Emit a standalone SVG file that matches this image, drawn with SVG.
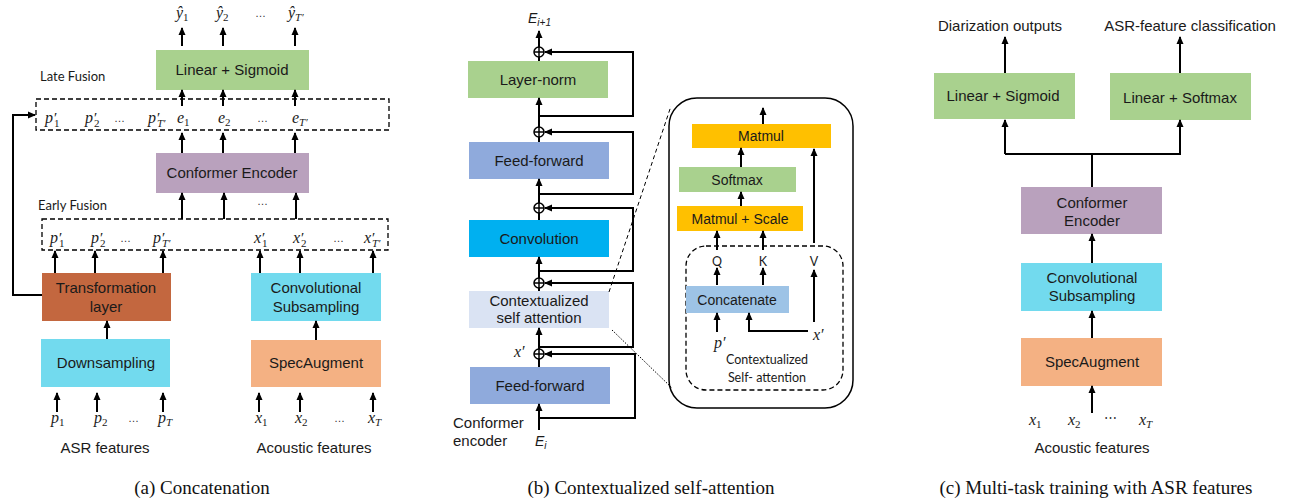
<svg xmlns="http://www.w3.org/2000/svg" width="1291" height="501" viewBox="0 0 1291 501">
<style>
.bx{font-family:"Liberation Sans",Arial,sans-serif;font-size:15px;fill:#1a1a1a;text-anchor:middle}
.cal{font-family:Lato,"Open Sans",sans-serif;font-size:13px;fill:#1a1a1a}
.m{font-family:"Liberation Serif","Times New Roman",serif;font-style:italic;font-size:16px;fill:#1a1a1a}
.s{font-size:11px;font-style:normal}
.si{font-size:11px}
.pr{font-size:15px;font-style:normal}
.cap{font-family:"Liberation Serif","Times New Roman",serif;font-size:19px;fill:#111;text-anchor:middle}
.ln{stroke:#000;stroke-width:2;fill:none}
.ar{stroke:#000;stroke-width:2;fill:none;marker-end:url(#ah)}
.dash{stroke:#000;stroke-width:1.3;fill:none;stroke-dasharray:5,3}
.dots{font-family:"Liberation Sans",sans-serif;font-size:11px;fill:#333}
</style>
<defs>
<marker id="ah" markerWidth="8" markerHeight="8" refX="7" refY="4" orient="auto" markerUnits="userSpaceOnUse"><path d="M0,0.5 L8,4 L0,7.5 z" fill="#000"/></marker>
</defs>
<rect width="1291" height="501" fill="#fff"/>

<!-- ================= Panel (a) ================= -->
<g id="a-lin-sig"><rect x="156" y="50" width="153" height="40" fill="#A9D18E"/><text class="bx" x="232" y="75">Linear + Sigmoid</text></g>
<g id="a-conformer"><rect x="156" y="153" width="153" height="40" fill="#B9A1BD"/><text class="bx" x="232" y="178">Conformer Encoder</text></g>
<g id="a-transform"><rect x="42" y="273" width="129" height="48" fill="#C3673F"/><text class="bx" x="106" y="293">Transformation</text><text class="bx" x="106" y="312">layer</text></g>
<g id="a-convsub"><rect x="251" y="273" width="130" height="48" fill="#72DAEE"/><text class="bx" x="316" y="293">Convolutional</text><text class="bx" x="316" y="312">Subsampling</text></g>
<g id="a-down"><rect x="41" y="339" width="129" height="48" fill="#72DAEE"/><text class="bx" x="106" y="368">Downsampling</text></g>
<g id="a-spec"><rect x="251" y="340" width="130" height="47" fill="#F4B183"/><text class="bx" x="316" y="368">SpecAugment</text></g>

<g id="a-late"><rect class="dash" x="36" y="99" width="353" height="31"/>
<text class="cal" x="40" y="81">Late Fusion</text>
<text class="m" x="45" y="123">p<tspan class="pr" x="54" y="123">′</tspan><tspan class="s" x="54" y="127">1</tspan></text>
<text class="m" x="85" y="123">p<tspan class="pr" x="94" y="123">′</tspan><tspan class="s" x="94" y="127">2</tspan></text>
<text class="dots" x="114" y="122">…</text>
<text class="m" x="148" y="123">p<tspan class="pr" x="157" y="123">′</tspan><tspan class="si" x="157" y="127">T′</tspan></text>
<text class="m" x="177" y="123">e<tspan class="s" dy="3">1</tspan></text>
<text class="m" x="218" y="123">e<tspan class="s" dy="3">2</tspan></text>
<text class="dots" x="257" y="122">…</text>
<text class="m" x="292" y="123">e<tspan class="si" dy="3">T′</tspan></text>
</g>

<g id="a-early"><rect class="dash" x="42" y="219" width="346" height="31"/>
<text class="cal" x="38" y="210">Early Fusion</text>
<text class="m" x="50" y="243">p<tspan class="pr" x="59" y="243">′</tspan><tspan class="s" x="59" y="247">1</tspan></text>
<text class="m" x="91" y="243">p<tspan class="pr" x="100" y="243">′</tspan><tspan class="s" x="100" y="247">2</tspan></text>
<text class="dots" x="120" y="242">…</text>
<text class="m" x="153" y="243">p<tspan class="pr" x="162" y="243">′</tspan><tspan class="si" x="162" y="247">T′</tspan></text>
<text class="m" x="254" y="243">x<tspan class="pr" x="262" y="243">′</tspan><tspan class="s" x="262" y="247">1</tspan></text>
<text class="m" x="293" y="243">x<tspan class="pr" x="301" y="243">′</tspan><tspan class="s" x="301" y="247">2</tspan></text>
<text class="dots" x="333" y="242">…</text>
<text class="m" x="364" y="243">x<tspan class="pr" x="372" y="243">′</tspan><tspan class="si" x="372" y="247">T′</tspan></text>
</g>

<g id="a-outputs">
<text class="m" x="176" y="18">ŷ<tspan class="s" dy="3">1</tspan></text>
<text class="m" x="216" y="18">ŷ<tspan class="s" dy="3">2</tspan></text>
<text class="dots" x="255" y="17">…</text>
<text class="m" x="288" y="18">ŷ<tspan class="si" dy="3">T′</tspan></text>
</g>

<g id="a-inputs">
<text class="m" x="51" y="423">p<tspan class="s" dy="3">1</tspan></text>
<text class="m" x="94" y="423">p<tspan class="s" dy="3">2</tspan></text>
<text class="dots" x="128" y="422">…</text>
<text class="m" x="158" y="423">p<tspan class="si" dy="3">T</tspan></text>
<text class="m" x="255" y="423">x<tspan class="s" dy="3">1</tspan></text>
<text class="m" x="295" y="423">x<tspan class="s" dy="3">2</tspan></text>
<text class="dots" x="334" y="422">…</text>
<text class="m" x="368" y="423">x<tspan class="si" dy="3">T</tspan></text>
<text class="bx" x="105" y="453">ASR features</text>
<text class="bx" x="314" y="453">Acoustic features</text>
</g>
<text class="cap" x="202" y="494">(a) Concatenation</text>

<g id="a-connectors">
<path class="ar" d="M182,46V28"/><path class="ar" d="M223,46V28"/><path class="ar" d="M295,46V28"/>
<path class="ar" d="M182,106V90"/><path class="ar" d="M223,106V90"/><path class="ar" d="M295,106V90"/>
<path class="ar" d="M182,153V133"/><path class="ar" d="M223,153V133"/><path class="ar" d="M295,153V133"/>
<text class="dots" x="257" y="205">…</text>
<path class="ar" d="M182,219V193"/><path class="ar" d="M224,219V193"/><path class="ar" d="M296,219V193"/>
<path class="ar" d="M55,273V251"/><path class="ar" d="M95,273V251"/><path class="ar" d="M163,273V251"/>
<path class="ar" d="M260,273V251"/><path class="ar" d="M300,273V251"/><path class="ar" d="M373,273V251"/>
<path class="ar" d="M107,339V321"/><path class="ar" d="M316,340V321"/>
<path class="ar" d="M57,412V393"/><path class="ar" d="M97,412V393"/><path class="ar" d="M163,412V393"/>
<path class="ar" d="M259,412V393"/><path class="ar" d="M300,412V393"/><path class="ar" d="M373,412V393"/>
<path class="ar" d="M42,295H13V115H35"/>
</g>

<!-- ================= Panel (b) ================= -->
<g id="b-ln"><rect x="468" y="61" width="140" height="37" fill="#A9D18E"/><text class="bx" x="538" y="85">Layer-norm</text></g>
<g id="b-ff1"><rect x="469" y="142" width="140" height="37" fill="#8FAADC"/><text class="bx" x="539" y="166">Feed-forward</text></g>
<g id="b-conv"><rect x="469" y="220" width="140" height="37" fill="#00B0F0"/><text class="bx" x="539" y="244">Convolution</text></g>
<g id="b-csa"><rect x="469" y="291" width="140" height="37" fill="#DAE3F3"/><text class="bx" x="539" y="306">Contextualized</text><text class="bx" x="539" y="323">self attention</text></g>
<g id="b-ff2"><rect x="470" y="367" width="140" height="37" fill="#8FAADC"/><text class="bx" x="540" y="391">Feed-forward</text></g>
<g id="b-labels">
<text x="528" y="23" style="font-family:'Liberation Sans',sans-serif;font-style:italic;font-size:14px;fill:#1a1a1a">E<tspan font-size="10" dy="3">i+1</tspan></text>
<text x="535" y="446" style="font-family:'Liberation Sans',sans-serif;font-style:italic;font-size:14px;fill:#1a1a1a">E<tspan font-size="10" dy="3">i</tspan></text>
<text class="m" x="514" y="357">x′</text>
<text class="bx" x="453" y="428" style="text-anchor:start">Conformer</text>
<text class="bx" x="453" y="446" style="text-anchor:start">encoder</text>
</g>
<g id="b-sums" fill="none" stroke="#000" stroke-width="1.5">
<circle cx="539" cy="52" r="5"/><path d="M534,52H544M539,47V57"/>
<circle cx="539" cy="132" r="5"/><path d="M534,132H544M539,127V137"/>
<circle cx="539" cy="208" r="5"/><path d="M534,208H544M539,203V213"/>
<circle cx="539" cy="283" r="5"/><path d="M534,283H544M539,278V288"/>
<circle cx="539" cy="354" r="5"/><path d="M534,354H544M539,349V359"/>
</g>
<g id="b-connectors">
<path class="ar" d="M539,430V404"/>
<path class="ln" d="M539,367V359"/>
<path class="ar" d="M539,349V328"/>
<path class="ln" d="M539,291V288"/>
<path class="ar" d="M539,278V257"/>
<path class="ln" d="M539,220V213"/>
<path class="ar" d="M539,203V179"/>
<path class="ln" d="M539,142V137"/>
<path class="ar" d="M539,127V98"/>
<path class="ln" d="M539,61V57"/>
<path class="ar" d="M539,47V31"/>
<path class="ar" d="M539,418H635V354H545"/>
<path class="ar" d="M539,347H633V283H545"/>
<path class="ar" d="M539,271H633V208H545"/>
<path class="ar" d="M539,194H633V132H545"/>
<path class="ar" d="M539,116H633V52H545"/>
<path d="M609,292L671,106" stroke="#000" stroke-width="1" stroke-dasharray="4,3" fill="none"/>
<path d="M612,330L672,388" stroke="#000" stroke-width="1" stroke-dasharray="1.5,1.5" fill="none"/>
</g>

<!-- attention detail -->
<g id="b-attn-frame"><rect x="669" y="98" width="184" height="310" rx="28" fill="none" stroke="#000" stroke-width="1.5"/></g>
<g id="b-matmul"><rect x="692" y="124" width="139" height="24" fill="#FFC000"/><text class="bx" x="761" y="141" style="font-size:14px">Matmul</text></g>
<g id="b-softmax"><rect x="679" y="167" width="117" height="25" fill="#A9D18E"/><text class="bx" x="737" y="185" style="font-size:14px">Softmax</text></g>
<g id="b-mmscale"><rect x="677" y="206" width="126" height="25" fill="#FFC000"/><text class="bx" x="740" y="224" style="font-size:14px">Matmul + Scale</text></g>
<g id="b-ctx"><rect x="686" y="246" width="157" height="144" rx="20" fill="none" stroke="#000" stroke-width="1.3" stroke-dasharray="5,3"/>
<text class="cal" x="767" y="364" text-anchor="middle" style="font-size:12.5px">Contextualized</text>
<text class="cal" x="767" y="382" text-anchor="middle" style="font-size:12.5px">Self- attention</text>
<text class="cal" x="717" y="266" text-anchor="middle" style="font-size:12.5px">Q</text>
<text class="cal" x="763" y="266" text-anchor="middle" style="font-size:12.5px">K</text>
<text class="cal" x="814" y="266" text-anchor="middle" style="font-size:12.5px">V</text>
<text class="m" x="714" y="348">p′</text>
<text class="m" x="813" y="340">x′</text>
</g>
<g id="b-concat"><rect x="686" y="286" width="103" height="27" fill="#9DC3E6"/><text class="bx" x="737" y="305" style="font-size:14px">Concatenate</text></g>
<g id="b-attn-connectors">
<path class="ar" d="M763,124V108"/>
<path class="ar" d="M741,167V148"/>
<path class="ar" d="M741,206V192"/>
<path class="ar" d="M814,243V149"/>
<path class="ar" d="M717,250V231"/><path class="ar" d="M763,250V231"/>
<path class="ar" d="M717,285V268"/><path class="ar" d="M763,285V268"/>
<path class="ar" d="M717,332V313"/>
<path class="ar" d="M808,331H749V313"/>
<path class="ar" d="M814,322V270"/>
</g>
<text class="cap" x="651" y="494">(b) Contextualized self-attention</text>

<!-- ================= Panel (c) ================= -->
<g id="c-linsig"><rect x="934" y="73" width="141" height="46" fill="#A9D18E"/><text class="bx" x="1003" y="101">Linear + Sigmoid</text></g>
<g id="c-linsoft"><rect x="1110" y="73" width="141" height="47" fill="#A9D18E"/><text class="bx" x="1180" y="103">Linear + Softmax</text></g>
<g id="c-conf"><rect x="1021" y="187" width="141" height="47" fill="#B9A1BD"/><text class="bx" x="1092" y="208">Conformer</text><text class="bx" x="1092" y="226">Encoder</text></g>
<g id="c-convsub"><rect x="1021" y="263" width="141" height="48" fill="#72DAEE"/><text class="bx" x="1092" y="283">Convolutional</text><text class="bx" x="1092" y="301">Subsampling</text></g>
<g id="c-spec"><rect x="1021" y="338" width="141" height="48" fill="#F4B183"/><text class="bx" x="1092" y="367">SpecAugment</text></g>
<g id="c-labels">
<text class="bx" x="1000" y="31">Diarization outputs</text>
<text class="bx" x="1190" y="31">ASR-feature classification</text>
<text class="m" x="1029" y="425">x<tspan class="s" dy="3">1</tspan></text>
<text class="m" x="1068" y="425">x<tspan class="s" dy="3">2</tspan></text>
<text class="dots" x="1104" y="422" style="font-size:13px">⋯</text>
<text class="m" x="1139" y="425">x<tspan class="si" dy="3">T</tspan></text>
<text class="bx" x="1092" y="453">Acoustic features</text>
</g>
<g id="c-connectors">
<path class="ar" d="M1005,73V37"/><path class="ar" d="M1180,73V37"/>
<path class="ln" d="M1092,187V154"/>
<path class="ar" d="M1005,154V120"/>
<path class="ar" d="M1092,154H1180V120"/>
<path class="ln" d="M1092,154H1005"/>
<path class="ar" d="M1092,263V234"/>
<path class="ar" d="M1092,338V311"/>
<path class="ar" d="M1092,413V386"/>
</g>
<text class="cap" x="1096" y="494">(c) Multi-task training with ASR features</text>
</svg>
